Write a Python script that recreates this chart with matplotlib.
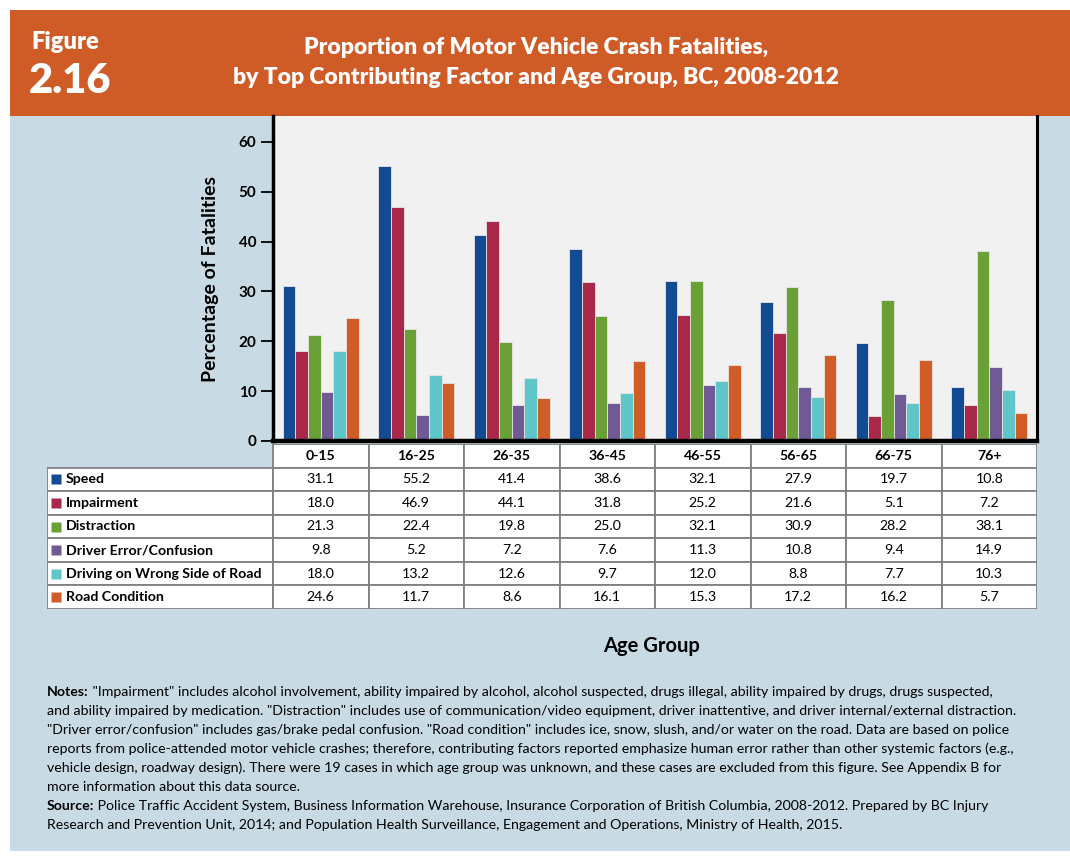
import matplotlib.pyplot as plt
from matplotlib.patches import Rectangle

groups = ['0-15', '16-25', '26-35', '36-45', '46-55', '56-65', '66-75', '76+']
factors = ['Speed', 'Impairment', 'Distraction', 'Driver Error/Confusion',
           'Driving on Wrong Side of Road', 'Road Condition']
speed = [31.1, 55.2, 41.4, 38.6, 32.1, 27.9, 19.7, 10.8]
impairment = [18.0, 46.9, 44.1, 31.8, 25.2, 21.6, 5.1, 7.2]
distraction = [21.3, 22.4, 19.8, 25.0, 32.1, 30.9, 28.2, 38.1]
driver_error = [9.8, 5.2, 7.2, 7.6, 11.3, 10.8, 9.4, 14.9]
wrong_side = [18.0, 13.2, 12.6, 9.7, 12.0, 8.8, 7.7, 10.3]
road_condition = [24.6, 11.7, 8.6, 16.1, 15.3, 17.2, 16.2, 5.7]
series = [speed, impairment, distraction, driver_error, wrong_side, road_condition]
colors = ['#134b92', '#a8294a', '#6aa136', '#6f5a93', '#5ec6c8', '#d05c28']

yticks = [0, 10, 20, 30, 40, 50, 60]

notes = [
    ' "Impairment" includes alcohol involvement, ability impaired by alcohol, alcohol suspected, drugs illegal, ability impaired by drugs, drugs suspected,',
    'and ability impaired by medication. "Distraction" includes use of communication/video equipment, driver inattentive, and driver internal/external distraction.',
    '"Driver error/confusion" includes gas/brake pedal confusion. "Road condition" includes ice, snow, slush, and/or water on the road. Data are based on police',
    'reports from police-attended motor vehicle crashes; therefore, contributing factors reported emphasize human error rather than other systemic factors (e.g.,',
    'vehicle design, roadway design). There were 19 cases in which age group was unknown, and these cases are excluded from this figure. See Appendix B for',
    'more information about this data source.',
]
source = [
    ' Police Traffic Accident System, Business Information Warehouse, Insurance Corporation of British Columbia, 2008-2012. Prepared by BC Injury',
    'Research and Prevention Unit, 2014; and Population Health Surveillance, Engagement and Operations, Ministry of Health, 2015.',
]

W, H = 1070, 861
plt.rcParams['font.family'] = ['Lato', 'DejaVu Sans']

fig = plt.figure(figsize=(W / 100, H / 100), dpi=100)
fig.patch.set_facecolor('white')


def rect(l, t, r, b):
    return [l / W, 1 - b / H, (r - l) / W, (b - t) / H]


# background panels
bg = fig.add_axes([0, 0, 1, 1], zorder=0)
bg.set_xlim(0, W)
bg.set_ylim(H, 0)
bg.axis('off')
bg.add_patch(Rectangle((10, 10), W - 10, 106, facecolor='#cf5b27', edgecolor='none'))
bg.add_patch(Rectangle((10, 116), W - 10, 735, facecolor='#c8dbe5', edgecolor='none'))

bg.text(31, 42, 'Figure', color='white', fontsize=17, fontweight='heavy',
        va='center', ha='left')
bg.text(29, 81, '2.16', color='white', fontsize=30, fontweight='heavy',
        va='center', ha='left')
bg.text(536, 48, 'Proportion of Motor Vehicle Crash Fatalities,', color='white',
        fontsize=16.5, fontweight='heavy', va='center', ha='center')
bg.text(536, 78, 'by Top Contributing Factor and Age Group, BC, 2008-2012', color='white',
        fontsize=16.5, fontweight='heavy', va='center', ha='center')

bg.text(652, 646, 'Age Group', fontsize=14.5, fontweight='bold', ha='center', va='center')

# notes block
fs = 10.2
line_h = 19
t = bg.text(47, 692, 'Notes:', fontsize=fs, fontweight='bold', va='center', ha='left')
bg.annotate(notes[0], xy=(1, 0.5), xycoords=t, va='center', ha='left', fontsize=fs)
for i, line in enumerate(notes[1:], start=1):
    bg.text(47, 692 + i * line_h, line, fontsize=fs, va='center', ha='left')
ys = 692 + len(notes) * line_h
t = bg.text(47, ys, 'Source:', fontsize=fs, fontweight='bold', va='center', ha='left')
bg.annotate(source[0], xy=(1, 0.5), xycoords=t, va='center', ha='left', fontsize=fs)
bg.text(47, ys + line_h, source[1], fontsize=fs, va='center', ha='left')

# bar chart
ax = fig.add_axes(rect(273, 116, 1037, 441), zorder=2)
ax.set_facecolor('#f0f1f0')
n = len(series)
width = 0.8 / n
for k, (vals, c) in enumerate(zip(series, colors)):
    xs = [i - 0.4 + width * (k + 0.5) for i in range(len(groups))]
    ax.bar(xs, vals, width=width, color=c, edgecolor='#e6e6e6', linewidth=0.6)
ax.set_xlim(-0.5, len(groups) - 0.5)
ax.set_ylim(0, 65.2)
ax.set_xticks([])
ax.set_yticks(yticks)
ax.set_yticklabels([str(v) for v in yticks], fontweight='bold')
ax.tick_params(axis='y', length=9, width=1.3, direction='out', labelsize=11, pad=3)
ax.spines['top'].set_visible(False)
ax.spines['left'].set_linewidth(2.5)
ax.spines['bottom'].set_linewidth(3.2)
ax.spines['right'].set_linewidth(2.2)
ax.set_ylabel('Percentage of Fatalities', fontsize=14, fontweight='bold', labelpad=14)

# data table
col_w = 95.5
lab_w = (273 - 47) / col_w
tab = fig.add_axes(rect(47, 444, 1037, 609), zorder=1)
tab.set_xlim(-0.5 - lab_w, len(groups) - 0.5)
tab.set_ylim(len(factors) + 1, 0)
tab.axis('off')
edge = '#808080'
tfs = 10.2
for j, g in enumerate(groups):
    tab.add_patch(Rectangle((j - 0.5, 0), 1, 1, facecolor='white', edgecolor=edge, lw=1.3))
    tab.text(j, 0.5, g, ha='center', va='center', fontsize=tfs, fontweight='bold')
for i, (name, vals, c) in enumerate(zip(factors, series, colors), start=1):
    tab.add_patch(Rectangle((-0.5 - lab_w, i), lab_w, 1, facecolor='white', edgecolor=edge, lw=1.3))
    tab.plot(-0.5 - lab_w + 0.09, i + 0.5, marker='s', ms=6.5, color=c, mec='none')
    tab.text(-0.5 - lab_w + 0.2, i + 0.5, name, ha='left', va='center', fontsize=tfs,
             fontweight='bold')
    for j, v in enumerate(vals):
        tab.add_patch(Rectangle((j - 0.5, i), 1, 1, facecolor='white', edgecolor=edge, lw=1.3))
        tab.text(j, i + 0.5, f'{v:.1f}', ha='center', va='center', fontsize=tfs)

fig.savefig('out.png', dpi=100)
